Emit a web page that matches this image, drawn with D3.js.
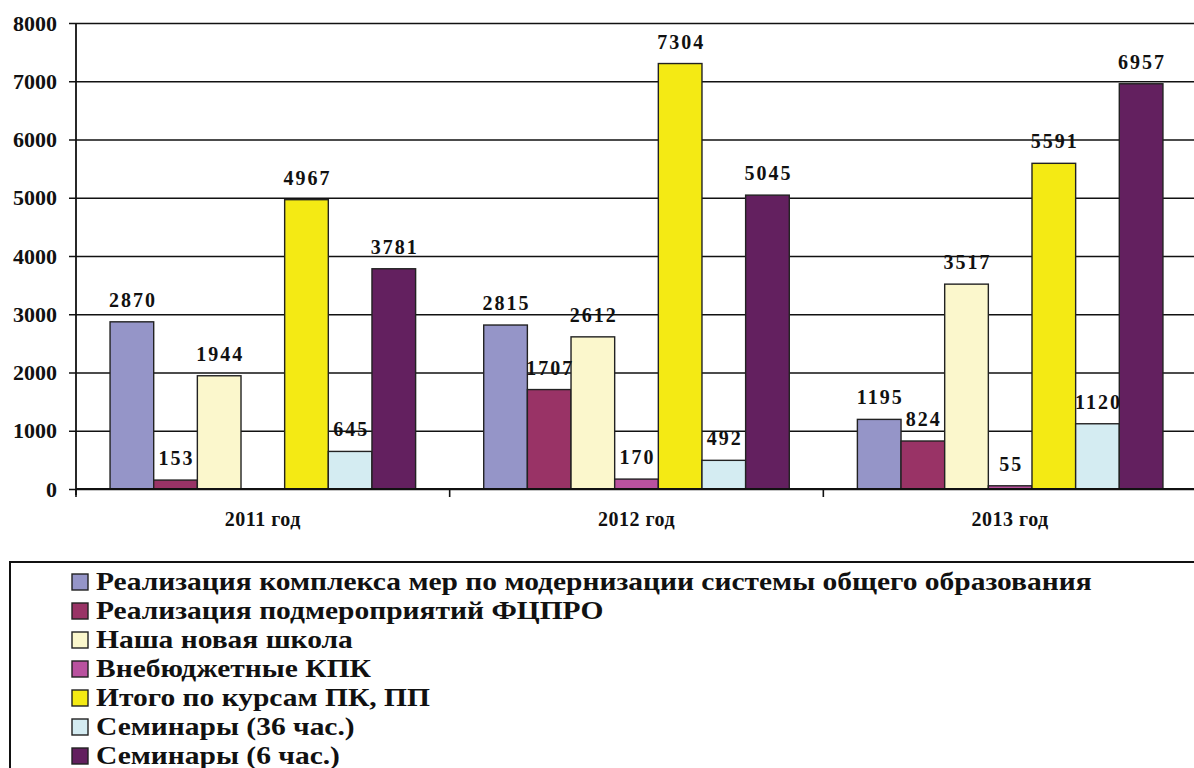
<!DOCTYPE html>
<html>
<head>
<meta charset="utf-8">
<script src="https://cdn.jsdelivr.net/npm/d3@7"></script>
<style>
  body { margin: 0; background: #fff; }
  svg { display: block; }
  svg text { font-family: "Liberation Serif", "DejaVu Serif", serif; font-weight: bold; fill: #111; }
</style>
</head>
<body>
<div id="chart"></div>
<script>
const categories = ["2011 год", "2012 год", "2013 год"];
const seriesNames = [
    "Реализация комплекса мер по модернизации системы общего образования",
    "Реализация подмероприятий ФЦПРО",
    "Наша новая школа",
    "Внебюджетные КПК",
    "Итого по курсам ПК, ПП",
    "Семинары (36 час.)",
    "Семинары (6 час.)"
];
const seriesColors = ["#9595c8", "#993366", "#fbf7cc", "#b9529f", "#f4ea14", "#d4ecf2", "#63205f"];
const values = [
    [2870, 2815, 1195],
    [153, 1707, 824],
    [1944, 2612, 3517],
    [null, 170, 55],
    [4967, 7304, 5591],
    [645, 492, 1120],
    [3781, 5045, 6957]
];
const yTicks = [0, 1000, 2000, 3000, 4000, 5000, 6000, 7000, 8000];

const W = 1194, H = 768;
const plotLeft = 76, plotRight = 1197, plotTop = 23, plotBottom = 489;
const serif = '"Liberation Serif", "DejaVu Serif", serif';

const svg = d3.select("#chart").append("svg")
    .attr("width", W)
    .attr("height", H);

const x = d3.scaleBand().domain(categories).range([plotLeft, plotRight]).padding(0);
const xs = d3.scaleBand().domain(d3.range(seriesNames.length))
    .range([0, x.bandwidth()]).paddingInner(0).paddingOuter(0.78);
const y = d3.scaleLinear().domain([0, 8000]).range([plotBottom, plotTop]);

// grid + y axis
const yAxis = svg.append("g")
    .attr("transform", `translate(${plotLeft},0)`)
    .call(d3.axisLeft(y).tickValues(yTicks).tickFormat(d3.format("d")).tickSize(0).tickPadding(19));
yAxis.attr("font-family", serif);
yAxis.select(".domain").remove();
yAxis.selectAll(".tick line")
    .attr("x1", -7).attr("x2", W - plotLeft)
    .attr("stroke", "#111").attr("stroke-width", 1.6);
yAxis.selectAll(".tick text")
    .style("font-size", "22px")
    .attr("fill", "#111");

svg.append("line")
    .attr("x1", plotLeft).attr("x2", plotLeft)
    .attr("y1", plotTop).attr("y2", plotBottom + 6)
    .attr("stroke", "#111").attr("stroke-width", 1.8);

// bars
const rows = [];
values.forEach((vals, s) => {
    vals.forEach((v, c) => {
        if (v !== null) rows.push({ s: s, cat: categories[c], v: v });
    });
});

svg.append("g").selectAll("rect")
    .data(rows)
    .join("rect")
    .attr("x", d => x(d.cat) + xs(d.s))
    .attr("y", d => y(d.v))
    .attr("width", xs.bandwidth())
    .attr("height", d => y(0) - y(d.v))
    .attr("fill", d => seriesColors[d.s])
    .attr("stroke", "#222")
    .attr("stroke-width", 1.4);

svg.append("g").selectAll("text")
    .data(rows)
    .join("text")
    .attr("x", d => x(d.cat) + xs(d.s) + xs.bandwidth() / 2 + 1)
    .attr("y", d => y(d.v) - 15)
    .attr("text-anchor", "middle")
    .style("font-size", "20px")
    .style("letter-spacing", "2px")
    .text(d => d.v);

// x axis
const xAxis = svg.append("g")
    .attr("transform", `translate(0,${plotBottom})`)
    .call(d3.axisBottom(x).tickSize(0).tickPadding(23));
xAxis.attr("font-family", serif);
xAxis.select(".domain").remove();
xAxis.selectAll(".tick text")
    .style("font-size", "20px")
    .style("letter-spacing", "0.5px")
    .attr("fill", "#111");

svg.append("line")
    .attr("x1", plotLeft).attr("x2", plotRight)
    .attr("y1", plotBottom).attr("y2", plotBottom)
    .attr("stroke", "#111").attr("stroke-width", 1.8);

svg.append("g").selectAll("line")
    .data(categories.concat([null]))
    .join("line")
    .attr("x1", d => d === null ? plotRight : x(d))
    .attr("x2", d => d === null ? plotRight : x(d))
    .attr("y1", plotBottom).attr("y2", plotBottom + 8)
    .attr("stroke", "#111").attr("stroke-width", 1.6);

// legend
svg.append("rect")
    .attr("x", 10).attr("y", 562)
    .attr("width", 1200).attr("height", 230)
    .attr("fill", "none")
    .attr("stroke", "#111").attr("stroke-width", 2);

const legend = svg.append("g").selectAll("g")
    .data(seriesNames)
    .join("g")
    .attr("transform", (d, i) => `translate(72,${574 + i * 29})`);

legend.append("rect")
    .attr("width", 16).attr("height", 16)
    .attr("fill", (d, i) => seriesColors[i])
    .attr("stroke", "#222").attr("stroke-width", 1.4);

legend.append("text")
    .attr("transform", "translate(24,16) scale(1.18,1)")
    .style("font-size", "25px")
    .text(d => d);
</script>
</body>
</html>
